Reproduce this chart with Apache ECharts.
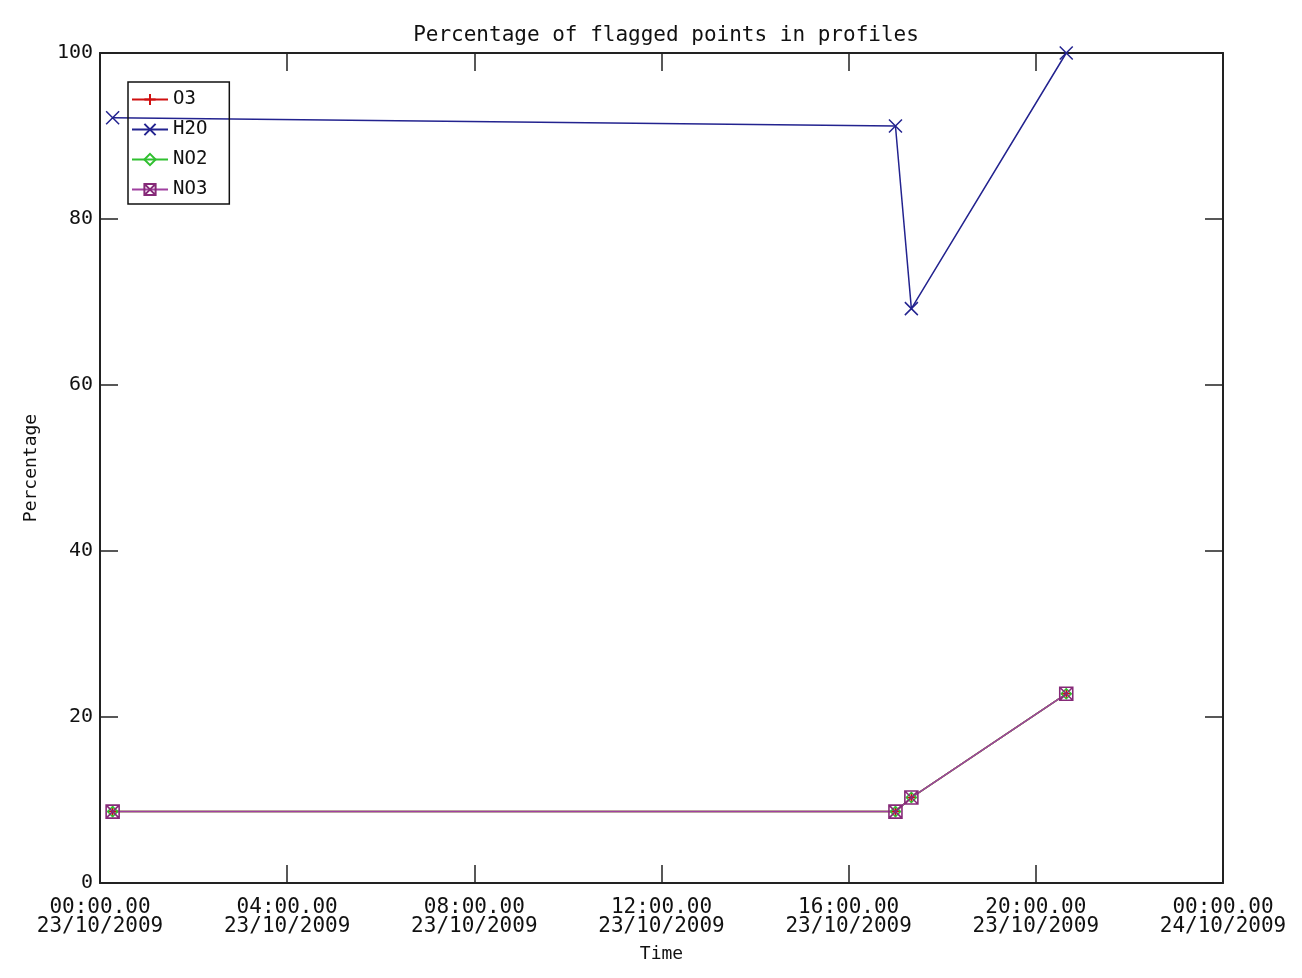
<!DOCTYPE html>
<html>
<head>
<meta charset="utf-8">
<script src="https://cdn.jsdelivr.net/npm/echarts@6/dist/echarts.min.js"></script>
<style>html,body{margin:0;padding:0;background:#fff;}#c{width:1302px;height:978px;}</style>
</head>
<body>
<div id="c"></div>
<script>
// Time in hours since 00:00 23/10/2009
const timesH2O = [0.27, 17.0, 17.34, 20.65];
const valuesH2O = [92.2, 91.2, 69.2, 100.0];
const timesNO3 = [0.27, 17.0, 17.34, 20.65];
const valuesO3 = [8.6, 8.6, 10.3, 22.8];
const valuesNO2 = [8.6, 8.6, 10.3, 22.8];
const valuesNO3 = [8.6, 8.6, 10.3, 22.8];
const seriesNames = ['O3', 'H2O', 'NO2', 'NO3'];
const yTicks = [0, 20, 40, 60, 80, 100];
const xTickHours = [0, 4, 8, 12, 16, 20, 24];

function pairs(xs, ys) { return xs.map((x, i) => [x, ys[i]]); }
function pad(n) { return (n < 10 ? '0' : '') + n; }
function xLabel(h) {
  const day = h >= 24 ? '24' : '23';
  return pad(Math.round(h) % 24) + ':00.00\n' + day + '/10/2009';
}
const FONT = 'DejaVu Sans Mono';
const chart = echarts.init(document.getElementById('c'));
const tickStyle = { inside: true, length: 18, lineStyle: { color: '#222', width: 1.5 } };
const axisLine = { show: true, onZero: false, lineStyle: { color: '#222', width: 2 } };
chart.setOption({
  backgroundColor: '#fff',
  animation: false,
  title: {
    text: 'Percentage of flagged points in profiles',
    left: 661, top: 20, textAlign: 'center',
    textStyle: { fontFamily: FONT, fontWeight: 'normal', fontSize: 21, color: '#111' }
  },
  grid: { left: 100, right: 79, top: 53, bottom: 95 },
  legend: {
    orient: 'vertical', left: 128, top: 82,
    data: seriesNames,
    borderColor: '#111', borderWidth: 1.5, borderRadius: 0,
    padding: [8, 22, 5, 3],
    itemWidth: 36, itemHeight: 14, itemGap: 11,
    textStyle: { fontFamily: FONT, fontSize: 19, lineHeight: 14, color: '#111' }
  },
  xAxis: [{
    type: 'value', min: 0, max: 24, interval: 4,
    name: 'Time', nameLocation: 'middle', nameGap: 62,
    nameTextStyle: { fontFamily: FONT, fontSize: 18, color: '#111' },
    axisLine: axisLine, axisTick: tickStyle, splitLine: { show: false },
    axisLabel: { formatter: xLabel, fontFamily: FONT, fontSize: 21, color: '#111', lineHeight: 19, margin: 15 }
  }, {
    type: 'value', min: 0, max: 24, interval: 4, position: 'top',
    axisLine: axisLine, axisTick: tickStyle, splitLine: { show: false }, axisLabel: { show: false }
  }],
  yAxis: [{
    type: 'value', min: 0, max: 100, interval: 20,
    name: 'Percentage', nameLocation: 'middle', nameGap: 60, nameRotate: 90,
    nameTextStyle: { fontFamily: FONT, fontSize: 18, color: '#111' },
    axisLine: axisLine, axisTick: tickStyle, splitLine: { show: false },
    axisLabel: { fontFamily: FONT, fontSize: 20, color: '#111', margin: 7 }
  }, {
    type: 'value', min: 0, max: 100, interval: 20, position: 'right',
    axisLine: axisLine, axisTick: tickStyle, splitLine: { show: false }, axisLabel: { show: false }
  }],
  series: [{
    name: 'O3', type: 'line', data: pairs(timesNO3, valuesO3),
    symbol: 'path://M5,0L5,10M0,5L10,5', symbolSize: 10,
    itemStyle: { color: 'none', borderColor: '#d01010', borderWidth: 1.5 },
    lineStyle: { color: '#d01010', width: 1.5 }
  }, {
    name: 'H2O', type: 'line', data: pairs(timesH2O, valuesH2O),
    symbol: 'path://M0,0L10,10M10,0L0,10', symbolSize: 13,
    itemStyle: { color: 'none', borderColor: '#23238f', borderWidth: 1.5 },
    lineStyle: { color: '#23238f', width: 1.5 }
  }, {
    name: 'NO2', type: 'line', data: pairs(timesNO3, valuesNO2),
    symbol: 'path://M5,0L10,5L5,10L0,5Z', symbolSize: 10,
    itemStyle: { color: 'none', borderColor: '#30c030', borderWidth: 1.5 },
    lineStyle: { color: '#30c030', width: 1.5 }
  }, {
    name: 'NO3', type: 'line', data: pairs(timesNO3, valuesNO3),
    symbol: 'path://M0,0L10,0L10,10L0,10ZM0,0L10,10M10,0L0,10', symbolSize: 13,
    itemStyle: { color: 'none', borderColor: '#862a78', borderWidth: 1.6 },
    lineStyle: { color: '#a040a0', width: 1.5 }
  }]
});
</script>
</body>
</html>
